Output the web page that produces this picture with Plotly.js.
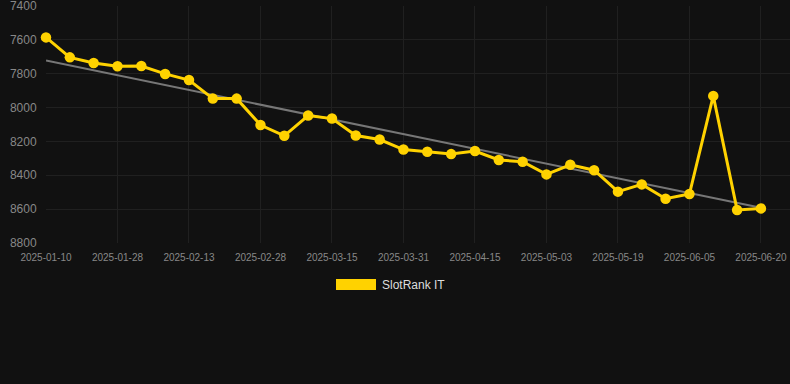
<!DOCTYPE html>
<html>
<head>
<meta charset="utf-8">
<script src="https://cdn.plot.ly/plotly-3.0.1.min.js"></script>
<style>html,body{margin:0;padding:0;background:#111111;}#chart{width:790px;height:384px;}</style>
</head>
<body>
<div id="chart"></div>
<script>
const dates = ["2025-01-10","2025-01-16","2025-01-22","2025-01-28","2025-02-02","2025-02-07","2025-02-13","2025-02-18","2025-02-23","2025-02-28","2025-03-05","2025-03-10","2025-03-15","2025-03-20","2025-03-26","2025-03-31","2025-04-05","2025-04-10","2025-04-15","2025-04-21","2025-04-27","2025-05-03","2025-05-08","2025-05-14","2025-05-19","2025-05-25","2025-05-31","2025-06-05","2025-06-10","2025-06-15","2025-06-20"];
const ranks = [7585,7703,7736,7756,7754,7801,7837,7947,7947,8103,8167,8047,8065,8165,8189,8248,8261,8275,8257,8310,8320,8395,8338,8370,8497,8454,8539,8511,7931,8605,8596];
const tickLabels = ["2025-01-10","2025-01-28","2025-02-13","2025-02-28","2025-03-15","2025-03-31","2025-04-15","2025-05-03","2025-05-19","2025-06-05","2025-06-20"];
const trendDates = ["2025-01-10","2025-06-20"];
const trendValues = [7722,8592];
const yTicks = [7400,7600,7800,8000,8200,8400,8600,8800];
const seriesName = "SlotRank IT";

const gold = "#FFD200";
const traces = [
  {x: trendDates, y: trendValues, type: "scatter", mode: "lines", line: {color: "#777777", width: 2}, hoverinfo: "skip", showlegend: false},
  {x: dates, y: ranks, type: "scatter", mode: "lines+markers", name: seriesName, line: {color: gold, width: 3}, marker: {color: gold, size: 10.5}, cliponaxis: false, showlegend: false}
];
const layout = {
  width: 790, height: 384,
  paper_bgcolor: "#111111", plot_bgcolor: "#111111",
  margin: {l: 46, r: 0, t: 6, b: 141},
  showlegend: false,
  xaxis: {
    type: "category", categoryorder: "array", categoryarray: dates,
    range: [0, 31.22],
    tickmode: "array", tickvals: tickLabels, ticktext: tickLabels,
    tickfont: {family: "Liberation Sans, Arial, sans-serif", size: 10, color: "#888888"},
    showgrid: true, gridcolor: "#202020", gridwidth: 1,
    zeroline: false, showline: false, ticks: "outside", ticklen: 5, tickcolor: "rgba(0,0,0,0)",
    ticklabeloverflow: "allow"
  },
  yaxis: {
    range: [8800.5, 7399.5], tickvals: yTicks,
    tickfont: {family: "Liberation Sans, Arial, sans-serif", size: 12, color: "#888888"},
    showgrid: true, gridcolor: "#202020", gridwidth: 1,
    zeroline: false, showline: false, ticks: "outside", ticklen: 6, tickcolor: "rgba(0,0,0,0)",
    ticklabeloverflow: "allow"
  },
  shapes: [
    {type: "rect", xref: "paper", yref: "paper", x0: (336-46)/744, x1: (376-46)/744, y0: -(279-243)/237, y1: -(290-243)/237, fillcolor: gold, line: {width: 0}}
  ],
  annotations: [
    {xref: "paper", yref: "paper", x: (380-46)/744, y: -(284.5-243)/237, xanchor: "left", yanchor: "middle", text: seriesName, showarrow: false, font: {family: "Liberation Sans, Arial, sans-serif", size: 12, color: "#dddddd"}}
  ]
};
Plotly.newPlot("chart", traces, layout, {displayModeBar: false, staticPlot: true});
</script>
</body>
</html>
